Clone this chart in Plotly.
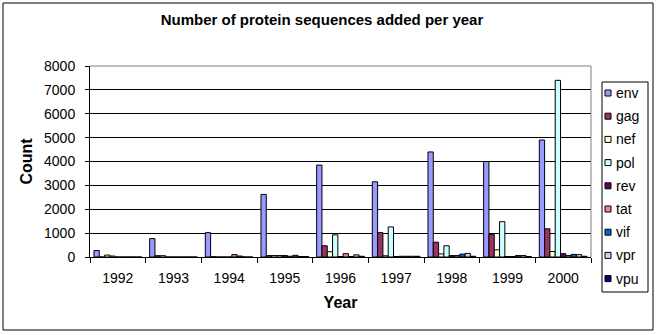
import plotly.graph_objects as go

# ---------------- data ----------------
years = ['1992', '1993', '1994', '1995', '1996', '1997', '1998', '1999', '2000']
series_names = ['env', 'gag', 'nef', 'pol', 'rev', 'tat', 'vif', 'vpr', 'vpu']
env = [270, 770, 1020, 2620, 3850, 3150, 4400, 4000, 4900]
gag = [0, 55, 10, 60, 470, 1020, 620, 950, 1180]
nef = [80, 55, 0, 60, 220, 50, 130, 300, 230]
pol = [40, 0, 0, 60, 930, 1260, 470, 1480, 7400]
rev = [0, 0, 0, 60, 20, 20, 60, 20, 140]
tat = [0, 0, 100, 30, 140, 30, 60, 20, 60]
vif = [0, 0, 40, 70, 20, 30, 120, 60, 110]
vpr = [0, 0, 0, 20, 90, 30, 150, 60, 100]
vpu = [0, 0, 0, 20, 30, 30, 30, 20, 30]
series_values = [env, gag, nef, pol, rev, tat, vif, vpr, vpu]
series_colors = ['#9999FF', '#993366', '#FFFFCC', '#CCFFFF', '#660066',
                 '#FF8080', '#0066CC', '#CCCCFF', '#000080']
y_ticks = [0, 1000, 2000, 3000, 4000, 5000, 6000, 7000, 8000]

title_text = 'Number of protein sequences added per year'
x_title = 'Year'
y_title = 'Count'

# ---------------- layout geometry (pixels) ----------------
W, H = 658, 335
PL, PR, PT, PB = 90, 591, 66, 257   # plot area edges
FONT = 'Liberation Sans, Arial, sans-serif'


def px_x(px):
    return (px - PL) / (PR - PL)


def px_y(py):
    return (PB - py) / (PB - PT)


fig = go.Figure()
for name, vals, col in zip(series_names, series_values, series_colors):
    fig.add_trace(go.Bar(
        x=years, y=vals, name=name,
        marker=dict(color=col, line=dict(color='black', width=1)),
        showlegend=False,
    ))

shapes = []
annotations = []

# plot-area border (gray top/right)
shapes.append(dict(type='line', xref='paper', yref='paper', x0=0, x1=1, y0=1, y1=1,
                   line=dict(color='#808080', width=1), layer='above'))
shapes.append(dict(type='line', xref='paper', yref='paper', x0=1, x1=1, y0=0, y1=1,
                   line=dict(color='#808080', width=1), layer='above'))

# outer chart border
shapes.append(dict(type='rect', xref='paper', yref='paper',
                   x0=px_x(3), x1=px_x(653), y0=px_y(330), y1=px_y(3),
                   line=dict(color='black', width=1), fillcolor='rgba(0,0,0,0)'))

# legend box
LX0, LX1, LY0, LY1 = 602, 648, 82, 292
shapes.append(dict(type='rect', xref='paper', yref='paper',
                   x0=px_x(LX0), x1=px_x(LX1), y0=px_y(LY1), y1=px_y(LY0),
                   line=dict(color='black', width=1), fillcolor='white'))
item_y0 = 93.0
item_step = 23.2
for i, (name, col) in enumerate(zip(series_names, series_colors)):
    cy = item_y0 + i * item_step
    shapes.append(dict(type='rect', xref='paper', yref='paper',
                       x0=px_x(605), x1=px_x(611), y0=px_y(cy + 3), y1=px_y(cy - 3),
                       line=dict(color='black', width=1), fillcolor=col))
    annotations.append(dict(xref='paper', yref='paper', x=px_x(614), y=px_y(cy),
                            xanchor='left', yanchor='middle', text=name, showarrow=False,
                            font=dict(family=FONT, size=14, color='black')))

fig.update_layout(
    width=W, height=H,
    margin=dict(l=PL, r=W - PR, t=PT, b=H - PB, pad=0),
    paper_bgcolor='white', plot_bgcolor='white',
    barmode='group', bargap=1.5 / 10.5, bargroupgap=0,
    font=dict(family=FONT, size=14, color='black'),
    title=dict(text=title_text, x=322 / W, xanchor='center', xref='container',
               y=1 - 20 / H, yanchor='middle', yref='container',
               font=dict(family=FONT, size=15, color='black', weight='bold')),
    xaxis=dict(type='category', showline=True, linecolor='black', linewidth=1,
               ticks='outside', tickson='boundaries', ticklen=5, tickcolor='black',
               showgrid=False, tickfont=dict(size=14), ticklabelstandoff=8,
               title=dict(text=x_title, font=dict(size=16, weight='bold'), standoff=12)),
    yaxis=dict(range=[0, 8000], tickvals=y_ticks, showline=True, linecolor='black',
               linewidth=1, ticks='outside', ticklen=4, tickcolor='black',
               showgrid=True, gridcolor='black', gridwidth=1, zeroline=False,
               tickfont=dict(size=14), ticklabelstandoff=7,
               title=dict(text=y_title, font=dict(size=16, weight='bold'), standoff=7)),
    shapes=shapes, annotations=annotations,
)

fig.write_html('out.html')
